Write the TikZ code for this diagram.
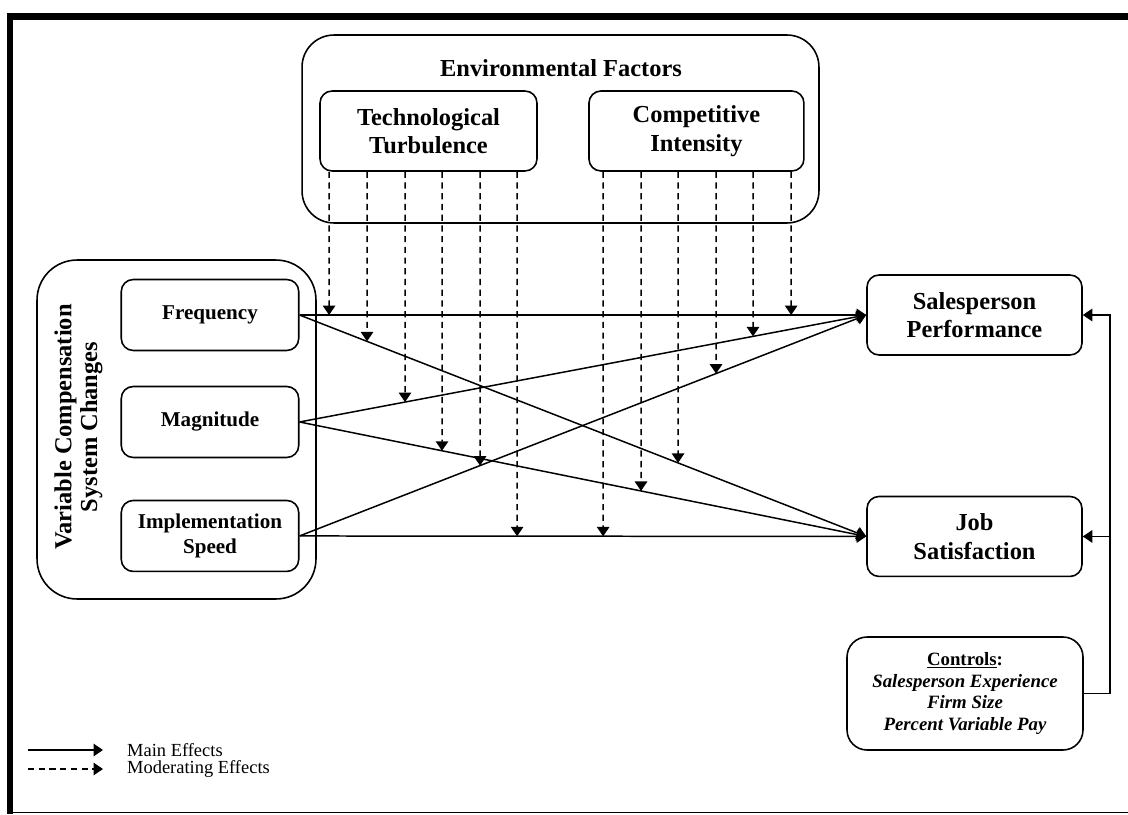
\documentclass[tikz,border=0pt]{standalone}
\usepackage{fontspec}
\setmainfont{Liberation Serif}
\usepackage{tikz}
\usetikzlibrary{positioning, arrows.meta, calc}

\begin{document}
\begin{tikzpicture}[x=0.02cm, y=-0.02cm, on grid,
    box/.style={draw, line width=0.9pt, rounded corners=0.24cm, align=center, font=\bfseries\fontsize{13.9}{16.3}\selectfont},
    dim/.style={box, minimum width=3.55cm, minimum height=1.42cm, font=\bfseries\fontsize{12}{14.3}\selectfont},
    outcome/.style={box, minimum width=4.3cm, minimum height=1.6cm},
    group/.style={draw, line width=0.9pt, rounded corners=0.64cm},
    main/.style={line width=0.85pt, -{Triangle[width=0.25cm, length=0.19cm]}},
    moder/.style={main, dash pattern=on 3.5pt off 2.6pt}]
   \useasboundingbox (0,0) rectangle (1128,814);
   \draw[line width=3.8pt] (10,814) -- (10,16.5) -- (1128,16.5);
   \draw[line width=0.9pt] (10,812.5) -- (1128,812.5);

   \node[group, minimum width=10.34cm, minimum height=3.76cm] (env) at (560.5,129) {};
   \node[font=\bfseries\fontsize{13.9}{16.3}\selectfont] (envt) at (561,68) {Environmental Factors};
   \node[box, minimum width=4.34cm, minimum height=1.6cm] (tt) at (428.5,131) {Technological\\Turbulence};
   \node[box, minimum width=4.3cm, minimum height=1.6cm] (ci) [right=5.36cm of tt] {Competitive\\Intensity};

   \node[group, rounded corners=0.8cm, minimum width=5.58cm, minimum height=6.78cm] (vcsc) at (176.5,429.5) {};
   \node[rotate=90, align=center, font=\bfseries\fontsize{13.9}{14.6}\selectfont] (vcsct) at (78.5,427) {Variable Compensation\\System Changes};
   \node[dim] (freq) at (210,315) {Frequency};
   \node[dim] (mag) [below=2.14cm of freq] {Magnitude};
   \node[dim] (impl) [below=2.28cm of mag] {Implementation\\Speed};

   \node[outcome] (sp) at (974.5,315) {Salesperson\\Performance};
   \node[outcome] (js) [below=4.43cm of sp] {Job\\Satisfaction};
   \node[box, rounded corners=0.4cm, minimum width=4.72cm, minimum height=2.26cm,
     font=\bfseries\itshape\fontsize{10.7}{12.5}\selectfont] (ctrl) at (965,693.5)
     {{\upshape\underline{Controls}:}\\Salesperson Experience\\Firm Size\\Percent Variable Pay};

   \path[main]
    (freq.east) edge (sp.west)
    (freq.east) edge (js.west)
    (mag.east) edge (sp.west)
    (mag.east) edge (js.west)
    (impl.east) edge (sp.west)
    (impl.east) edge (js.west);

   \foreach \x/\s/\a/\b in {329/tt/freq/sp, 367/tt/freq/js, 405/tt/mag/sp, 442/tt/mag/js,
       480/tt/impl/sp, 517/tt/impl/js, 603/ci/impl/js, 641/ci/mag/js, 678/ci/freq/js,
       716/ci/impl/sp, 753/ci/mag/sp, 791/ci/freq/sp}
     \draw[moder] (\x,0 |- \s.south) -- (intersection of \x,0--\x,100 and \a.east--\b.west);

   \coordinate (fb) at (1110,693.5);
   \draw[main] (ctrl.east) -- (fb) |- (sp.east);
   \draw[main] (fb |- js.east) -- (js.east);

   % legend
   \coordinate (l1a) at (28,750);
   \coordinate (l1b) at (103,750);
   \coordinate (l2a) at (28,769);
   \coordinate (l2b) at (103,769);
   \node[anchor=west, font=\fontsize{10.5}{12}\selectfont] (mainlbl) at (121,750) {Main Effects};
   \node[anchor=west, font=\fontsize{10.5}{12}\selectfont] (modlbl) at (121,769) {Moderating Effects};
   \draw[main] (l1a) -- (l1b);
   \draw[moder] (l2a) -- (l2b);
\end{tikzpicture}
\end{document}
